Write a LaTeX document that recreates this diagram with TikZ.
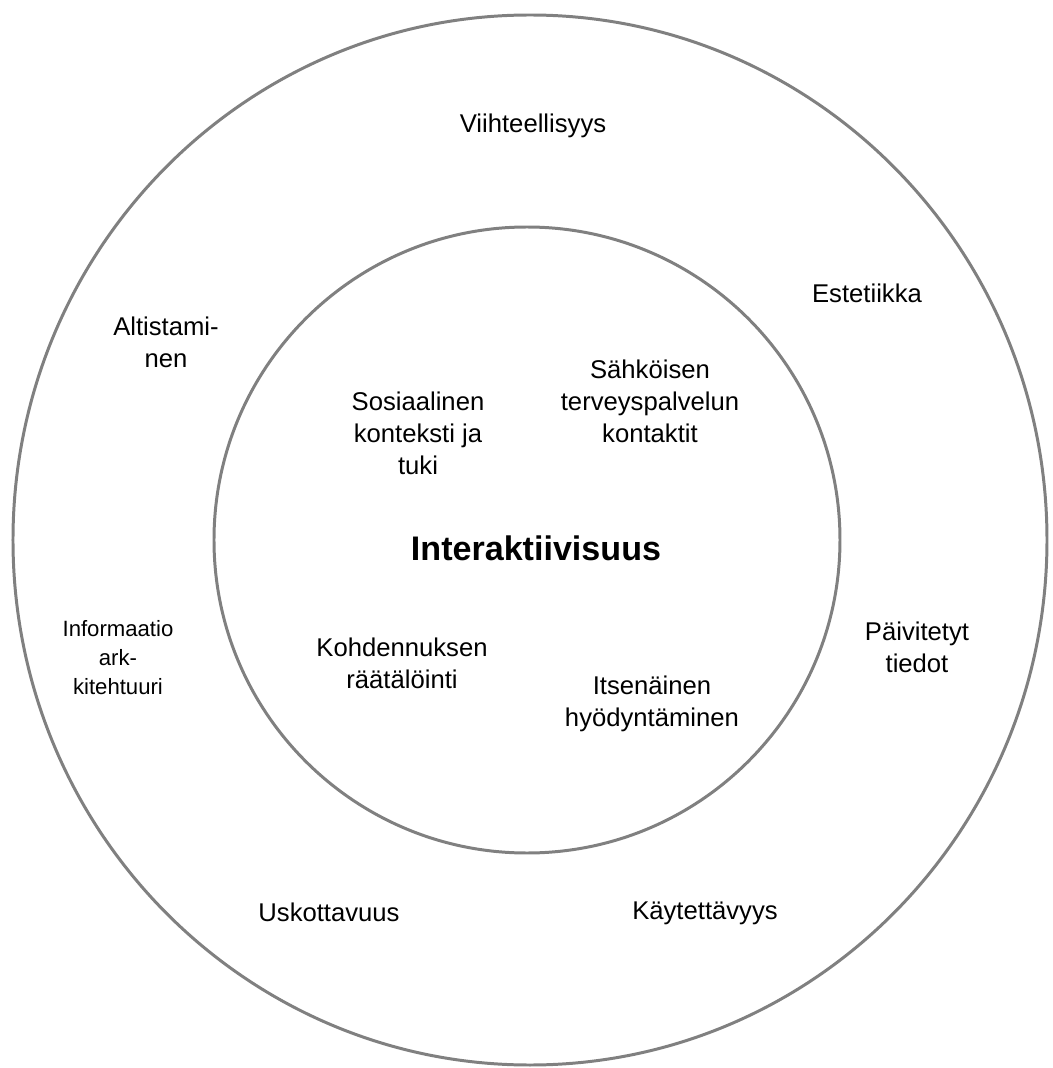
\documentclass[tikz,border=0pt]{standalone}
\usepackage{fontspec}
\setmainfont{Liberation Sans}
\begin{document}
\begin{tikzpicture}[
	ring/.style={draw=black!50, line width=1.7pt},
	lbl/.style={align=center, font=\fontsize{14.6}{18.2}\selectfont},
	smalllbl/.style={align=center, font=\fontsize{12.6}{16.5}\selectfont},
	core/.style={font=\fontsize{19.4}{22}\selectfont\bfseries}]
	\useasboundingbox (-10.54,-10.56) rectangle (10.5,10.8);
	\fill [white] (-10.54,-10.56) rectangle (10.5,10.8);

	\draw [ring] (0.06,0) ellipse (10.34 and 10.5);
	\draw [ring] (0,0) circle (6.26);

	\node [core] (inter) at (0.18,-0.16) {Interaktiivisuus};

	\node [lbl] (sosiaal) at (-2.18,2.14) {Sosiaalinen\\konteksti ja\\tuki};
	\node [lbl] (sahko) at (2.46,2.78) {Sähköisen\\terveyspalvelun\\kontaktit};
	\node [lbl] (kohden) at (-2.5,-2.46) {Kohdennuksen\\räätälöinti};
	\node [lbl] (itsen) at (2.5,-3.28) {Itsenäinen\\hyödyntäminen};

	\node [lbl] (viiht) at (0.12,8.28) {Viihteellisyys};
	\node [lbl] (estet) at (6.8,4.94) {Estetiikka};
	\node [lbl] (altist) at (-7.22,3.96) {Altistami-\\nen};
	\node [smalllbl] (inform) at (-8.18,-2.36) {Informaatio\\ark-\\kitehtuuri};
	\node [lbl] (paivit) at (7.8,-2.14) {Päivitetyt\\tiedot};
	\node [lbl] (uskott) at (-3.96,-7.44) {Uskottavuus};
	\node [lbl] (kaytet) at (3.56,-7.46) {Käytettävyys};
\end{tikzpicture}
\end{document}
